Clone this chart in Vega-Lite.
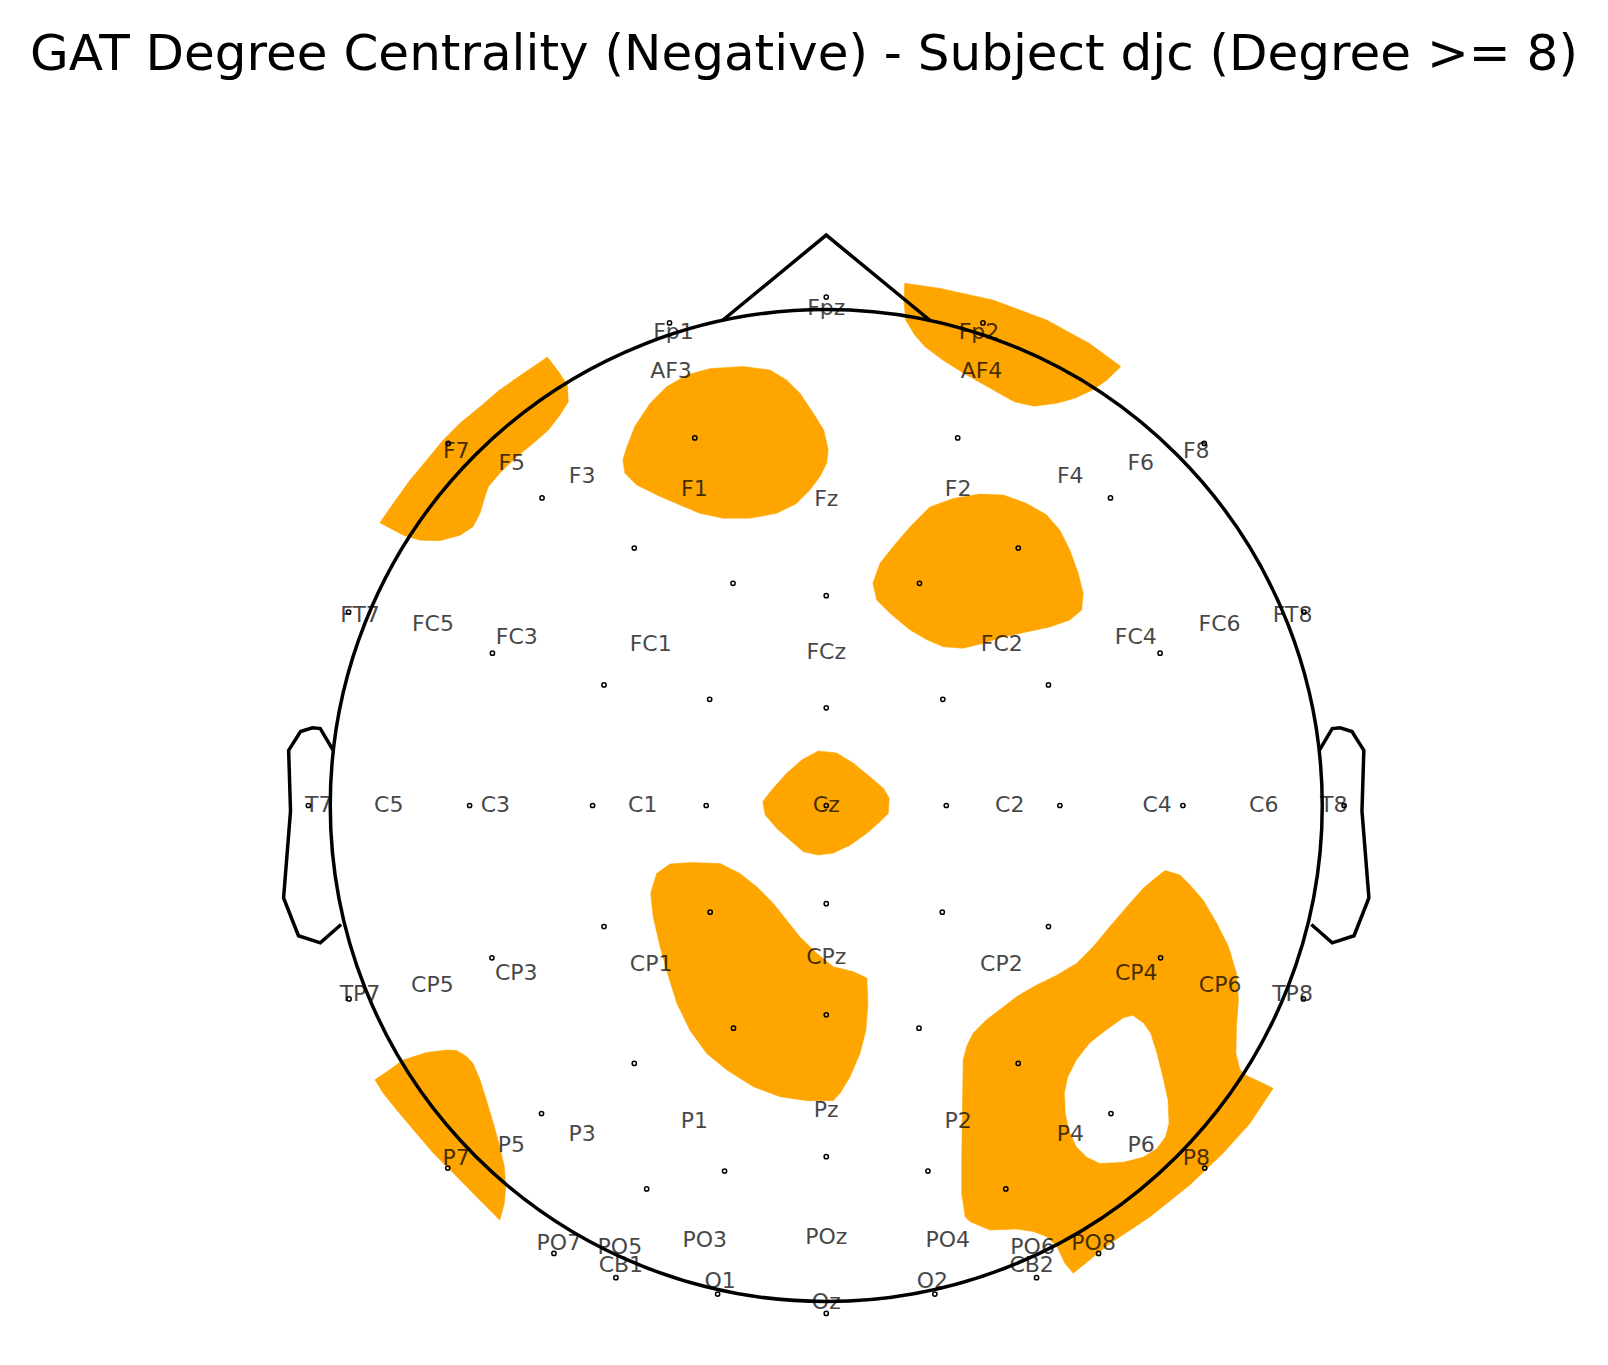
{
  "$schema": "https://vega.github.io/schema/vega-lite/v6.json",
  "autosize": {"type": "none"},
  "padding": {"top": 90, "left": 0, "right": 0, "bottom": 0},
  "width": 1608,
  "height": 1275,
  "background": "white",
  "config": {"view": {"stroke": null}},
  "title": {"text": "GAT Degree Centrality (Negative) - Subject djc (Degree >= 8)", "font": "DejaVu Sans", "fontSize": 50, "fontWeight": "normal", "color": "black", "anchor": "middle", "frame": "group", "offset": 10},
  "datasets": {
    "regions": [
      {"r":"Fp2","i":0,"x":15.8,"y":105.3},{"r":"Fp2","i":1,"x":22.8,"y":104.3},{"r":"Fp2","i":2,"x":33.6,"y":101.9},{"r":"Fp2","i":3,"x":44.4,"y":97.9},{"r":"Fp2","i":4,"x":53.0,"y":93.2},{"r":"Fp2","i":5,"x":59.4,"y":88.5},{"r":"Fp2","i":6,"x":56.6,"y":85.8},{"r":"Fp2","i":7,"x":53.8,"y":83.8},{"r":"Fp2","i":8,"x":50.1,"y":82.1},{"r":"Fp2","i":9,"x":46.5,"y":81.1},{"r":"Fp2","i":10,"x":41.9,"y":80.5},{"r":"Fp2","i":11,"x":37.9,"y":81.4},{"r":"Fp2","i":12,"x":33.6,"y":83.8},{"r":"Fp2","i":13,"x":27.8,"y":87.1},{"r":"Fp2","i":14,"x":23.5,"y":89.8},{"r":"Fp2","i":15,"x":19.9,"y":92.5},{"r":"Fp2","i":16,"x":17.8,"y":94.9},{"r":"Fp2","i":17,"x":16.0,"y":97.9},{"r":"Fp2","i":18,"x":15.7,"y":101.2},
      {"r":"F7","i":0,"x":-56.2,"y":90.4},{"r":"F7","i":1,"x":-53.7,"y":87.1},{"r":"F7","i":2,"x":-52.2,"y":84.8},{"r":"F7","i":3,"x":-52.0,"y":81.4},{"r":"F7","i":4,"x":-53.7,"y":78.7},{"r":"F7","i":5,"x":-56.0,"y":75.7},{"r":"F7","i":6,"x":-59.1,"y":73.0},{"r":"F7","i":7,"x":-62.4,"y":70.3},{"r":"F7","i":8,"x":-65.8,"y":67.0},{"r":"F7","i":9,"x":-68.1,"y":64.3},{"r":"F7","i":10,"x":-68.8,"y":62.3},{"r":"F7","i":11,"x":-69.8,"y":58.9},{"r":"F7","i":12,"x":-71.2,"y":56.2},{"r":"F7","i":13,"x":-73.8,"y":54.5},{"r":"F7","i":14,"x":-77.9,"y":53.4},{"r":"F7","i":15,"x":-81.9,"y":53.5},{"r":"F7","i":16,"x":-85.3,"y":54.5},{"r":"F7","i":17,"x":-87.9,"y":55.9},{"r":"F7","i":18,"x":-90.0,"y":57.0},{"r":"F7","i":19,"x":-87.3,"y":60.9},{"r":"F7","i":20,"x":-83.9,"y":65.6},{"r":"F7","i":21,"x":-80.5,"y":69.7},{"r":"F7","i":22,"x":-77.2,"y":73.7},{"r":"F7","i":23,"x":-73.8,"y":77.1},{"r":"F7","i":24,"x":-69.8,"y":80.4},{"r":"F7","i":25,"x":-65.8,"y":83.8},{"r":"F7","i":26,"x":-61.1,"y":87.1},
      {"r":"AF3","i":0,"x":-16.7,"y":88.5},{"r":"AF3","i":1,"x":-11.3,"y":87.8},{"r":"AF3","i":2,"x":-8.0,"y":85.8},{"r":"AF3","i":3,"x":-5.3,"y":83.1},{"r":"AF3","i":4,"x":-2.6,"y":79.1},{"r":"AF3","i":5,"x":-0.5,"y":75.7},{"r":"AF3","i":6,"x":0.4,"y":71.7},{"r":"AF3","i":7,"x":0.1,"y":69.0},{"r":"AF3","i":8,"x":-1.3,"y":66.3},{"r":"AF3","i":9,"x":-3.3,"y":63.6},{"r":"AF3","i":10,"x":-6.0,"y":60.9},{"r":"AF3","i":11,"x":-10.0,"y":58.9},{"r":"AF3","i":12,"x":-15.4,"y":57.9},{"r":"AF3","i":13,"x":-20.8,"y":57.9},{"r":"AF3","i":14,"x":-25.5,"y":58.9},{"r":"AF3","i":15,"x":-29.5,"y":60.6},{"r":"AF3","i":16,"x":-33.5,"y":62.3},{"r":"AF3","i":17,"x":-38.2,"y":64.6},{"r":"AF3","i":18,"x":-40.6,"y":67.0},{"r":"AF3","i":19,"x":-41.0,"y":69.7},{"r":"AF3","i":20,"x":-40.2,"y":72.3},{"r":"AF3","i":21,"x":-38.6,"y":76.4},{"r":"AF3","i":22,"x":-35.5,"y":81.1},{"r":"AF3","i":23,"x":-32.2,"y":84.4},{"r":"AF3","i":24,"x":-28.1,"y":86.8},{"r":"AF3","i":25,"x":-23.4,"y":88.1},
      {"r":"F2","i":0,"x":31.0,"y":62.8},{"r":"F2","i":1,"x":35.7,"y":62.6},{"r":"F2","i":2,"x":40.4,"y":60.9},{"r":"F2","i":3,"x":44.4,"y":58.6},{"r":"F2","i":4,"x":47.1,"y":55.5},{"r":"F2","i":5,"x":49.1,"y":51.5},{"r":"F2","i":6,"x":50.8,"y":46.8},{"r":"F2","i":7,"x":51.8,"y":42.8},{"r":"F2","i":8,"x":51.5,"y":39.4},{"r":"F2","i":9,"x":49.1,"y":37.4},{"r":"F2","i":10,"x":45.1,"y":36.0},{"r":"F2","i":11,"x":40.4,"y":35.0},{"r":"F2","i":12,"x":35.7,"y":34.0},{"r":"F2","i":13,"x":31.7,"y":32.7},{"r":"F2","i":14,"x":27.6,"y":31.7},{"r":"F2","i":15,"x":23.6,"y":32.0},{"r":"F2","i":16,"x":20.3,"y":33.4},{"r":"F2","i":17,"x":16.9,"y":35.4},{"r":"F2","i":18,"x":12.9,"y":38.7},{"r":"F2","i":19,"x":10.2,"y":41.4},{"r":"F2","i":20,"x":9.4,"y":44.8},{"r":"F2","i":21,"x":10.8,"y":48.8},{"r":"F2","i":22,"x":13.5,"y":52.2},{"r":"F2","i":23,"x":16.9,"y":56.2},{"r":"F2","i":24,"x":20.9,"y":60.2},{"r":"F2","i":25,"x":25.6,"y":61.9},
      {"r":"Cz","i":0,"x":-1.6,"y":11.0},{"r":"Cz","i":1,"x":2.1,"y":10.6},{"r":"Cz","i":2,"x":5.5,"y":8.5},{"r":"Cz","i":3,"x":8.8,"y":5.8},{"r":"Cz","i":4,"x":11.5,"y":3.5},{"r":"Cz","i":5,"x":12.7,"y":1.5},{"r":"Cz","i":6,"x":12.5,"y":-1.6},{"r":"Cz","i":7,"x":10.8,"y":-3.3},{"r":"Cz","i":8,"x":8.2,"y":-5.6},{"r":"Cz","i":9,"x":4.8,"y":-8.0},{"r":"Cz","i":10,"x":1.4,"y":-9.6},{"r":"Cz","i":11,"x":-1.6,"y":-10.0},{"r":"Cz","i":12,"x":-4.6,"y":-9.3},{"r":"Cz","i":13,"x":-7.3,"y":-7.0},{"r":"Cz","i":14,"x":-10.0,"y":-4.6},{"r":"Cz","i":15,"x":-12.3,"y":-1.9},{"r":"Cz","i":16,"x":-12.8,"y":0.8},{"r":"Cz","i":17,"x":-11.0,"y":3.1},{"r":"Cz","i":18,"x":-8.0,"y":6.5},{"r":"Cz","i":19,"x":-4.9,"y":9.2},
      {"r":"CP1","i":0,"x":-34.2,"y":-13.7},{"r":"CP1","i":1,"x":-31.5,"y":-11.8},{"r":"CP1","i":2,"x":-27.5,"y":-11.5},{"r":"CP1","i":3,"x":-21.4,"y":-11.7},{"r":"CP1","i":4,"x":-17.4,"y":-13.7},{"r":"CP1","i":5,"x":-14.0,"y":-16.4},{"r":"CP1","i":6,"x":-10.7,"y":-19.7},{"r":"CP1","i":7,"x":-8.0,"y":-23.1},{"r":"CP1","i":8,"x":-5.3,"y":-26.5},{"r":"CP1","i":9,"x":-1.9,"y":-29.8},{"r":"CP1","i":10,"x":1.4,"y":-32.5},{"r":"CP1","i":11,"x":5.5,"y":-33.5},{"r":"CP1","i":12,"x":8.2,"y":-34.8},{"r":"CP1","i":13,"x":8.4,"y":-39.9},{"r":"CP1","i":14,"x":8.0,"y":-45.3},{"r":"CP1","i":15,"x":6.8,"y":-50.0},{"r":"CP1","i":16,"x":4.8,"y":-54.7},{"r":"CP1","i":17,"x":2.8,"y":-58.0},{"r":"CP1","i":18,"x":1.4,"y":-59.5},{"r":"CP1","i":19,"x":-3.9,"y":-59.5},{"r":"CP1","i":20,"x":-9.3,"y":-58.7},{"r":"CP1","i":21,"x":-14.7,"y":-56.7},{"r":"CP1","i":22,"x":-20.1,"y":-53.3},{"r":"CP1","i":23,"x":-24.1,"y":-50.0},{"r":"CP1","i":24,"x":-27.5,"y":-45.3},{"r":"CP1","i":25,"x":-30.1,"y":-39.9},{"r":"CP1","i":26,"x":-31.8,"y":-34.5},{"r":"CP1","i":27,"x":-33.5,"y":-28.5},{"r":"CP1","i":28,"x":-34.9,"y":-22.4},{"r":"CP1","i":29,"x":-35.4,"y":-17.7},
      {"r":"P7","i":0,"x":-91.0,"y":-55.3},{"r":"P7","i":1,"x":-88.6,"y":-53.7},{"r":"P7","i":2,"x":-85.3,"y":-51.3},{"r":"P7","i":3,"x":-80.6,"y":-49.8},{"r":"P7","i":4,"x":-76.5,"y":-49.3},{"r":"P7","i":5,"x":-74.5,"y":-49.4},{"r":"P7","i":6,"x":-72.5,"y":-50.6},{"r":"P7","i":7,"x":-71.2,"y":-52.0},{"r":"P7","i":8,"x":-69.8,"y":-55.3},{"r":"P7","i":9,"x":-68.5,"y":-59.4},{"r":"P7","i":10,"x":-67.1,"y":-64.1},{"r":"P7","i":11,"x":-65.8,"y":-68.8},{"r":"P7","i":12,"x":-64.9,"y":-72.8},{"r":"P7","i":13,"x":-64.6,"y":-76.9},{"r":"P7","i":14,"x":-64.9,"y":-80.2},{"r":"P7","i":15,"x":-65.8,"y":-83.6},{"r":"P7","i":16,"x":-70.5,"y":-78.9},{"r":"P7","i":17,"x":-75.2,"y":-74.1},{"r":"P7","i":18,"x":-79.2,"y":-70.1},{"r":"P7","i":19,"x":-83.2,"y":-65.4},{"r":"P7","i":20,"x":-86.6,"y":-61.4},{"r":"P7","i":21,"x":-89.3,"y":-58.0},
      {"r":"P8","i":0,"x":68.3,"y":-13.1},{"r":"P8","i":1,"x":71.3,"y":-14.0},{"r":"P8","i":2,"x":73.3,"y":-16.0},{"r":"P8","i":3,"x":76.0,"y":-19.1},{"r":"P8","i":4,"x":78.7,"y":-23.7},{"r":"P8","i":5,"x":81.1,"y":-28.5},{"r":"P8","i":6,"x":82.7,"y":-33.8},{"r":"P8","i":7,"x":83.1,"y":-39.2},{"r":"P8","i":8,"x":82.7,"y":-44.6},{"r":"P8","i":9,"x":82.6,"y":-50.0},{"r":"P8","i":10,"x":83.4,"y":-53.3},{"r":"P8","i":11,"x":84.8,"y":-54.5},{"r":"P8","i":12,"x":87.4,"y":-55.7},{"r":"P8","i":13,"x":90.1,"y":-57.0},{"r":"P8","i":14,"x":85.4,"y":-64.1},{"r":"P8","i":15,"x":80.0,"y":-70.1},{"r":"P8","i":16,"x":73.3,"y":-76.5},{"r":"P8","i":17,"x":65.3,"y":-82.9},{"r":"P8","i":18,"x":57.2,"y":-88.3},{"r":"P8","i":19,"x":49.8,"y":-94.3},{"r":"P8","i":20,"x":48.1,"y":-92.3},{"r":"P8","i":21,"x":46.5,"y":-88.9},{"r":"P8","i":22,"x":44.4,"y":-86.9},{"r":"P8","i":23,"x":41.7,"y":-85.9},{"r":"P8","i":24,"x":38.4,"y":-85.4},{"r":"P8","i":25,"x":33.0,"y":-85.6},{"r":"P8","i":26,"x":29.0,"y":-83.9},{"r":"P8","i":27,"x":28.0,"y":-82.9},{"r":"P8","i":28,"x":27.3,"y":-78.2},{"r":"P8","i":29,"x":27.3,"y":-71.5},{"r":"P8","i":30,"x":27.4,"y":-64.8},{"r":"P8","i":31,"x":27.5,"y":-58.0},{"r":"P8","i":32,"x":27.6,"y":-51.3},{"r":"P8","i":33,"x":28.3,"y":-48.6},{"r":"P8","i":34,"x":29.6,"y":-45.9},{"r":"P8","i":35,"x":32.3,"y":-43.2},{"r":"P8","i":36,"x":35.7,"y":-40.6},{"r":"P8","i":37,"x":38.4,"y":-38.5},{"r":"P8","i":38,"x":42.4,"y":-36.2},{"r":"P8","i":39,"x":46.5,"y":-34.2},{"r":"P8","i":40,"x":50.5,"y":-31.8},{"r":"P8","i":41,"x":53.8,"y":-28.5},{"r":"P8","i":42,"x":57.2,"y":-24.4},{"r":"P8","i":43,"x":60.6,"y":-20.4},{"r":"P8","i":44,"x":63.9,"y":-16.7},{"r":"P8","i":45,"x":66.6,"y":-14.4}
    ],
    "hole": [
      {"i":0,"x":61.8,"y":-42.4},{"i":1,"x":63.9,"y":-43.9},{"i":2,"x":65.3,"y":-45.9},{"i":3,"x":66.6,"y":-50.0},{"i":4,"x":67.9,"y":-55.3},{"i":5,"x":68.8,"y":-59.4},{"i":6,"x":69.0,"y":-64.1},{"i":7,"x":68.3,"y":-66.8},{"i":8,"x":66.6,"y":-69.1},{"i":9,"x":63.9,"y":-70.8},{"i":10,"x":59.9,"y":-71.8},{"i":11,"x":55.2,"y":-72.1},{"i":12,"x":52.5,"y":-70.8},{"i":13,"x":50.5,"y":-68.8},{"i":14,"x":49.0,"y":-65.4},{"i":15,"x":48.3,"y":-62.1},{"i":16,"x":48.1,"y":-58.0},{"i":17,"x":48.8,"y":-54.7},{"i":18,"x":50.5,"y":-51.3},{"i":19,"x":53.2,"y":-47.9},{"i":20,"x":56.5,"y":-45.3},{"i":21,"x":59.9,"y":-42.9}
    ],
    "head": [{"x":0,"y":0}],
    "nose": [{"i":0,"x":-20.94,"y":97.78},{"i":1,"x":0,"y":115},{"i":2,"x":20.94,"y":97.78}],
    "ears": [
      {"s":"L","i":0,"x":-99.4,"y":11.1},{"s":"L","i":1,"x":-102.0,"y":15.5},{"s":"L","i":2,"x":-103.6,"y":15.66},{"s":"L","i":3,"x":-105.98,"y":14.92},{"s":"L","i":4,"x":-108.38,"y":11.1},{"s":"L","i":5,"x":-108.0,"y":-1.1},{"s":"L","i":6,"x":-109.4,"y":-18.64},{"s":"L","i":7,"x":-106.4,"y":-26.26},{"s":"L","i":8,"x":-102.0,"y":-27.68},{"s":"L","i":9,"x":-97.8,"y":-23.98},
      {"s":"R","i":0,"x":99.4,"y":11.1},{"s":"R","i":1,"x":102.0,"y":15.5},{"s":"R","i":2,"x":103.6,"y":15.66},{"s":"R","i":3,"x":105.98,"y":14.92},{"s":"R","i":4,"x":108.38,"y":11.1},{"s":"R","i":5,"x":108.0,"y":-1.1},{"s":"R","i":6,"x":109.4,"y":-18.64},{"s":"R","i":7,"x":106.4,"y":-26.26},{"s":"R","i":8,"x":102.0,"y":-27.68},{"s":"R","i":9,"x":97.8,"y":-23.98}
    ],
    "sensors": [
      {"x":0,"y":102.5},{"x":-31.6,"y":97.3},{"x":31.6,"y":97.3},{"x":-76.2,"y":73.0},{"x":76.2,"y":73.0},{"x":-26.5,"y":74.1},{"x":26.5,"y":74.1},{"x":-57.3,"y":62.0},{"x":57.3,"y":62.0},{"x":-38.7,"y":51.9},{"x":38.7,"y":51.9},{"x":-18.8,"y":44.8},{"x":18.8,"y":44.8},{"x":0,"y":42.3},{"x":-96.3,"y":39.0},{"x":96.3,"y":39.0},{"x":-67.3,"y":30.7},{"x":67.3,"y":30.7},{"x":-44.8,"y":24.3},{"x":44.8,"y":24.3},{"x":-23.5,"y":21.4},{"x":23.5,"y":21.4},{"x":0,"y":19.7},{"x":-104.4,"y":0},{"x":104.4,"y":0},{"x":-71.9,"y":0},{"x":71.9,"y":0},{"x":-47.1,"y":0},{"x":47.1,"y":0},{"x":-24.2,"y":0},{"x":24.2,"y":0},{"x":0,"y":0},{"x":0,"y":-19.8},{"x":-23.4,"y":-21.5},{"x":23.4,"y":-21.5},{"x":-44.8,"y":-24.4},{"x":44.8,"y":-24.4},{"x":-67.4,"y":-30.7},{"x":67.4,"y":-30.7},{"x":-96.2,"y":-39.0},{"x":96.2,"y":-39.0},{"x":-18.7,"y":-44.9},{"x":18.7,"y":-44.9},{"x":0,"y":-42.2},{"x":-38.7,"y":-52.0},{"x":38.7,"y":-52.0},{"x":-57.4,"y":-62.1},{"x":57.4,"y":-62.1},{"x":-76.3,"y":-73.1},{"x":76.3,"y":-73.1},{"x":-20.5,"y":-73.7},{"x":20.5,"y":-73.7},{"x":0,"y":-70.8},{"x":-36.2,"y":-77.3},{"x":36.2,"y":-77.3},{"x":-54.9,"y":-90.3},{"x":54.9,"y":-90.3},{"x":-42.4,"y":-95.2},{"x":42.4,"y":-95.2},{"x":-21.9,"y":-98.5},{"x":21.9,"y":-98.5},{"x":0,"y":-102.4}
    ],
    "names": [
      {"n":"Fpz","x":0,"y":100.2},{"n":"Fp1","x":-30.8,"y":95.5},{"n":"Fp2","x":30.8,"y":95.5},{"n":"AF3","x":-31.3,"y":87.5},{"n":"AF4","x":31.3,"y":87.5},
      {"n":"F7","x":-74.6,"y":71.5},{"n":"F8","x":74.6,"y":71.5},{"n":"F5","x":-63.4,"y":69.0},{"n":"F6","x":63.4,"y":69.0},{"n":"F3","x":-49.2,"y":66.4},{"n":"F4","x":49.2,"y":66.4},{"n":"F1","x":-26.6,"y":63.9},{"n":"F2","x":26.6,"y":63.9},{"n":"Fz","x":0,"y":61.8},
      {"n":"FT7","x":-94.0,"y":38.4},{"n":"FT8","x":94.0,"y":38.4},{"n":"FC5","x":-79.3,"y":36.5},{"n":"FC6","x":79.3,"y":36.5},{"n":"FC3","x":-62.4,"y":34.0},{"n":"FC4","x":62.4,"y":34.0},{"n":"FC1","x":-35.4,"y":32.5},{"n":"FC2","x":35.4,"y":32.5},{"n":"FCz","x":0,"y":30.9},
      {"n":"T7","x":-102.3,"y":0.2},{"n":"T8","x":102.3,"y":0.2},{"n":"C5","x":-88.2,"y":0.1},{"n":"C6","x":88.2,"y":0.1},{"n":"C3","x":-66.7,"y":0.1},{"n":"C4","x":66.7,"y":0.1},{"n":"C1","x":-37.0,"y":0.1},{"n":"C2","x":37.0,"y":0.1},{"n":"Cz","x":0,"y":0.1},
      {"n":"CP1","x":-35.3,"y":-32.0},{"n":"CP2","x":35.3,"y":-32.0},{"n":"CPz","x":0,"y":-30.5},{"n":"CP3","x":-62.5,"y":-33.7},{"n":"CP4","x":62.5,"y":-33.7},{"n":"CP5","x":-79.4,"y":-36.2},{"n":"CP6","x":79.4,"y":-36.2},{"n":"TP7","x":-94.0,"y":-38.1},{"n":"TP8","x":94.0,"y":-38.1},
      {"n":"P1","x":-26.6,"y":-63.6},{"n":"P2","x":26.6,"y":-63.6},{"n":"Pz","x":0,"y":-61.3},{"n":"P3","x":-49.2,"y":-66.2},{"n":"P4","x":49.2,"y":-66.2},{"n":"P5","x":-63.5,"y":-68.5},{"n":"P6","x":63.5,"y":-68.5},{"n":"P7","x":-74.6,"y":-71.1},{"n":"P8","x":74.6,"y":-71.1},
      {"n":"PO7","x":-53.9,"y":-88.2},{"n":"PO8","x":53.9,"y":-88.2},{"n":"PO5","x":-41.6,"y":-89.1},{"n":"PO6","x":41.6,"y":-89.1},{"n":"PO3","x":-24.5,"y":-87.5},{"n":"PO4","x":24.5,"y":-87.5},{"n":"POz","x":0,"y":-87.0},
      {"n":"CB1","x":-41.4,"y":-92.7},{"n":"CB2","x":41.4,"y":-92.7},{"n":"O1","x":-21.4,"y":-95.8},{"n":"O2","x":21.4,"y":-95.8},{"n":"Oz","x":0,"y":-100.0}
    ]
  },
  "encoding": {
    "x": {"field": "x", "type": "quantitative", "scale": {"domain": [-166.57, 157.6], "nice": false, "zero": false}, "axis": null},
    "y": {"field": "y", "type": "quantitative", "scale": {"domain": [-112.8, 144.25], "nice": false, "zero": false}, "axis": null}
  },
  "layer": [
    {
      "data": {"name": "regions"},
      "mark": {"type": "line", "fill": "#FFA500", "stroke": "#FFA500", "strokeWidth": 0.5, "interpolate": "linear-closed"},
      "encoding": {"detail": {"field": "r", "type": "nominal"}, "order": {"field": "i", "type": "quantitative"}}
    },
    {
      "data": {"name": "hole"},
      "mark": {"type": "line", "fill": "white", "stroke": "white", "strokeWidth": 0.5, "interpolate": "linear-closed"},
      "encoding": {"order": {"field": "i", "type": "quantitative"}}
    },
    {
      "data": {"name": "head"},
      "mark": {"type": "point", "shape": "circle", "filled": false, "stroke": "black", "strokeWidth": 3.5, "size": 984064, "opacity": 1}
    },
    {
      "data": {"name": "nose"},
      "mark": {"type": "line", "stroke": "black", "strokeWidth": 3.5},
      "encoding": {"order": {"field": "i", "type": "quantitative"}}
    },
    {
      "data": {"name": "ears"},
      "mark": {"type": "line", "stroke": "black", "strokeWidth": 3.5},
      "encoding": {"detail": {"field": "s", "type": "nominal"}, "order": {"field": "i", "type": "quantitative"}}
    },
    {
      "data": {"name": "sensors"},
      "mark": {"type": "point", "shape": "circle", "filled": false, "stroke": "black", "strokeWidth": 1.5, "size": 18, "opacity": 1}
    },
    {
      "data": {"name": "names"},
      "mark": {"type": "text", "font": "DejaVu Sans", "fontSize": 22, "color": "black", "opacity": 0.72, "align": "center", "baseline": "middle"},
      "encoding": {"text": {"field": "n", "type": "nominal"}}
    }
  ]
}
